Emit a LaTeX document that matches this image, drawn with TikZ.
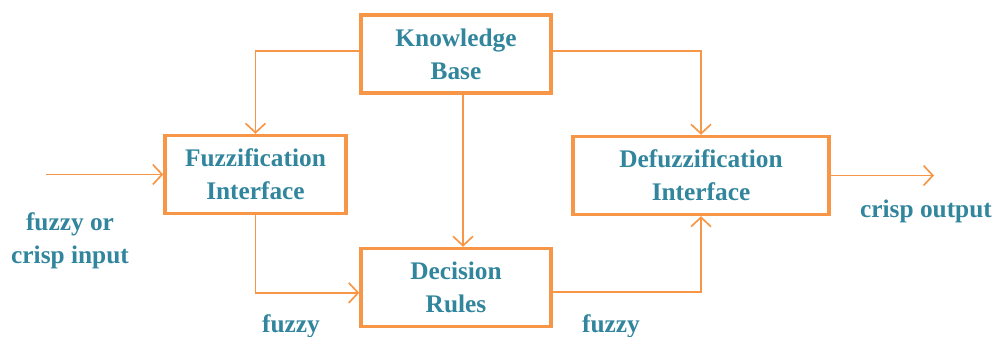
\documentclass[tikz,border=0pt]{standalone}
\usepackage{fontspec}
\setmainfont{Liberation Serif}
\usepackage{xcolor}
\usepackage{tikz}
\usetikzlibrary{arrows.meta, positioning}
\definecolor{boxorange}{RGB}{247,150,70}
\definecolor{textteal}{RGB}{49,133,156}
\tikzset{
    box/.style={rectangle, draw=boxorange, line width=2.6pt, align=center, text=textteal,
        font=\bfseries\fontsize{19}{24.75}\selectfont, minimum height=58.5pt},
    arrow/.style={-{Straight Barb[length=7pt, width=15pt]}, draw=boxorange, line width=1.25pt},
    tag/.style={text=textteal, align=center, font=\bfseries\fontsize{19}{24.75}\selectfont}
}
\begin{document}
\begin{tikzpicture}[x=0.75pt, y=-0.75pt]
            \useasboundingbox (0,0) rectangle (995,336);
            \node (kb) [box, minimum width=142.5pt] at (456,54) {Knowledge\\Base};
            \node (fuzz) [box, minimum width=135.75pt] at (255.5,174.5) {Fuzzification\\Interface};
            \node (defuzz) [box, minimum width=192pt] at (701,175.5) {Defuzzification\\Interface};
            \node (dec) [box, minimum width=142.5pt] at (456,287.5) {Decision\\Rules};

            \coordinate (in) at (46,174.5);
            \coordinate (out) at (934,175.5);

            \node (intag) [tag] at (70,241) {fuzzy or\\crisp input};
            \node (outtag) [tag, anchor=base] at (926,217) {crisp output};
            \node (fuzzyin) [tag, anchor=base] at (291,332) {fuzzy};
            \node (fuzzyout) [tag, anchor=base] at (611,332) {fuzzy};

            \draw[arrow] ([yshift=2.25pt]kb.west) -| (fuzz.north);
            \draw[arrow] ([yshift=2.25pt]kb.east) -| (defuzz.north);
            \draw[arrow] ([xshift=5.25pt]kb.south) -- ([xshift=5.25pt]dec.north);
            \draw[arrow] (in) -- (fuzz.west);
            \draw[arrow] (fuzz.south) |- ([yshift=-4pt]dec.west);
            \draw[arrow] ([yshift=-3.4pt]dec.east) -| (defuzz.south);
            \draw[arrow] (defuzz.east) -- (out);
        \end{tikzpicture}
\end{document}
